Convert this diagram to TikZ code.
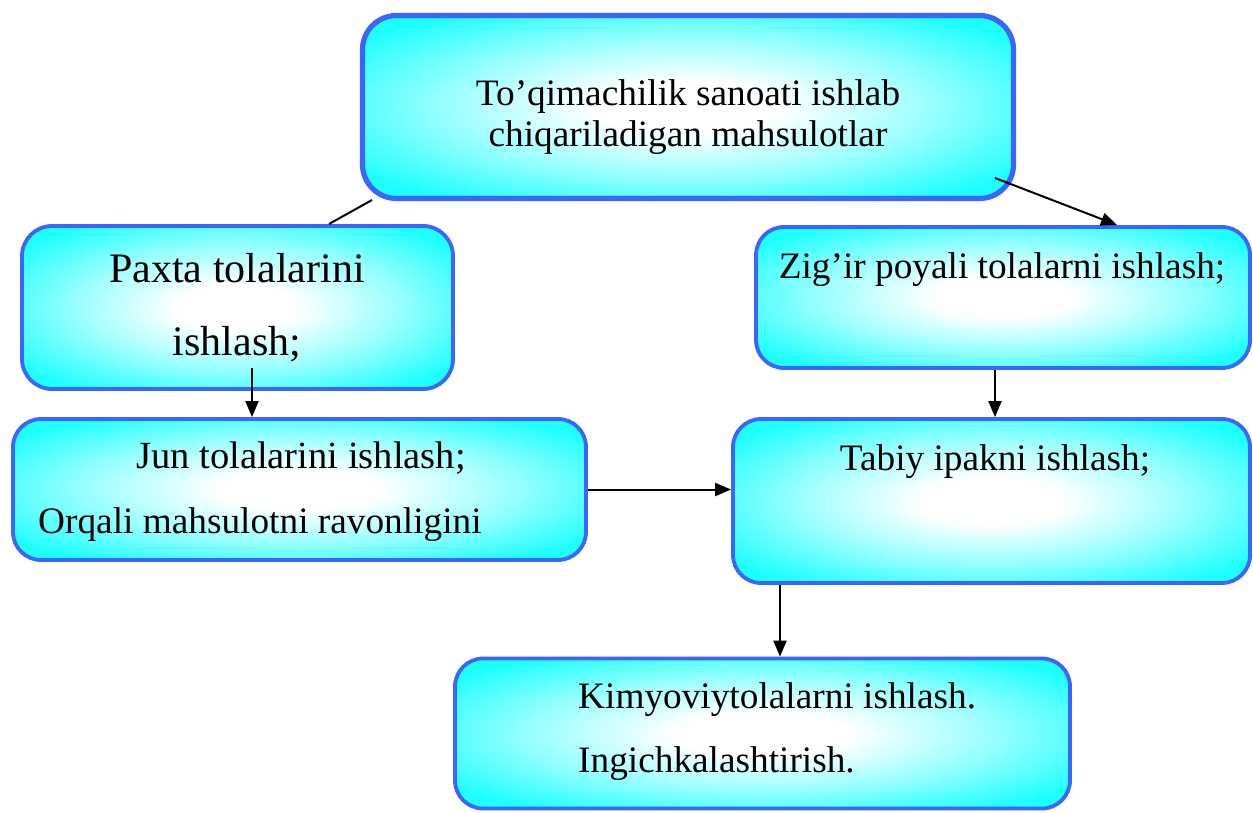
\documentclass[tikz,border=0pt]{standalone}
\usepackage{fontspec}
\setmainfont{Liberation Serif}
\usetikzlibrary{arrows.meta}
\definecolor{boxcyan}{RGB}{30,255,255}
\definecolor{boxmid}{RGB}{150,255,255}
\definecolor{boxblue}{RGB}{60,100,255}
\pgfdeclareradialshading{boxglow}{\pgfpoint{0bp}{0bp}}{%
  color(0bp)=(white);
  color(7bp)=(white);
  color(19bp)=(boxmid);
  color(31bp)=(boxcyan);
  color(50bp)=(boxcyan)}
\tikzset{
  box/.style={draw=boxblue, line width=3.8pt, rounded corners=28pt,
    shading=boxglow, inner sep=0pt},
  txt/.style={anchor=base, inner sep=0pt, font=\fontsize{37.3}{41}\selectfont},
  txtl/.style={anchor=base west, inner sep=0pt, font=\fontsize{37.3}{41}\selectfont},
  arr/.style={draw=black, line width=2pt, -{Triangle[length=16pt,width=13pt]}},
  plain/.style={draw=black, line width=2pt}
}
\begin{document}
\begin{tikzpicture}[x=1pt,y=-1pt]
\useasboundingbox (0,0) rectangle (1253,813);
% boxes
\node[box, line width=5.2pt, rounded corners=34pt, minimum width=651pt, minimum height=183pt] (top) at (688,107) {};
\node[box, rounded corners=30pt, minimum width=431pt, minimum height=163pt] (paxta) at (237.5,307.5) {};
\node[box, minimum width=494pt, minimum height=141pt] (zig) at (1003,297.5) {};
\node[box, minimum width=573pt, minimum height=141pt] (jun) at (299.5,489.5) {};
\node[box, minimum width=517pt, minimum height=164pt] (tabiy) at (991.5,501) {};
\node[box, minimum width=615pt, minimum height=150pt] (kimyo) at (762.5,733.5) {};
% texts
\node[txt] (t1a) at (688,106) {To’qimachilik sanoati ishlab};
\node[txt] (t1b) at (688,147) {chiqariladigan mahsulotlar};
\node[txt, font=\fontsize{42}{46}\selectfont] (t2a) at (237,282) {Paxta tolalarini};
\node[txt, font=\fontsize{42}{46}\selectfont] (t2b) at (237,355) {ishlash;};
\node[txt] (t3) at (1002,278) {Zig’ir poyali tolalarni ishlash;};
\node[txt, font=\fontsize{38.5}{42}\selectfont] (t4a) at (301,468) {Jun tolalarini ishlash;};
\node[txtl] (t4b) at (38,533) {Orqali mahsulotni ravonligini};
\node[txt] (t5) at (995,470) {Tabiy ipakni ishlash;};
\node[txtl] (t6a) at (578,708) {Kimyoviytolalarni ishlash.};
\node[txtl] (t6b) at (578,772) {Ingichkalashtirish.};
% connectors
\coordinate (s1) at (995,178);
\coordinate (e1) at (1117,225);
\draw[arr] (s1) -- (e1);
\coordinate (s2) at (372,200);
\coordinate (e2) at (329,224);
\draw[plain] (s2) -- (e2);
\coordinate (s3) at (252,368);
\draw[arr] (s3) -- (s3 |- jun.north);
\draw[arr] (jun.east) -- (jun.east -| tabiy.west);
\coordinate (s5) at (995,370);
\draw[arr] (s5) -- (s5 |- tabiy.north);
\coordinate (s6) at (780,585);
\draw[arr] (s6) -- (s6 |- kimyo.north);
\end{tikzpicture}
\end{document}
